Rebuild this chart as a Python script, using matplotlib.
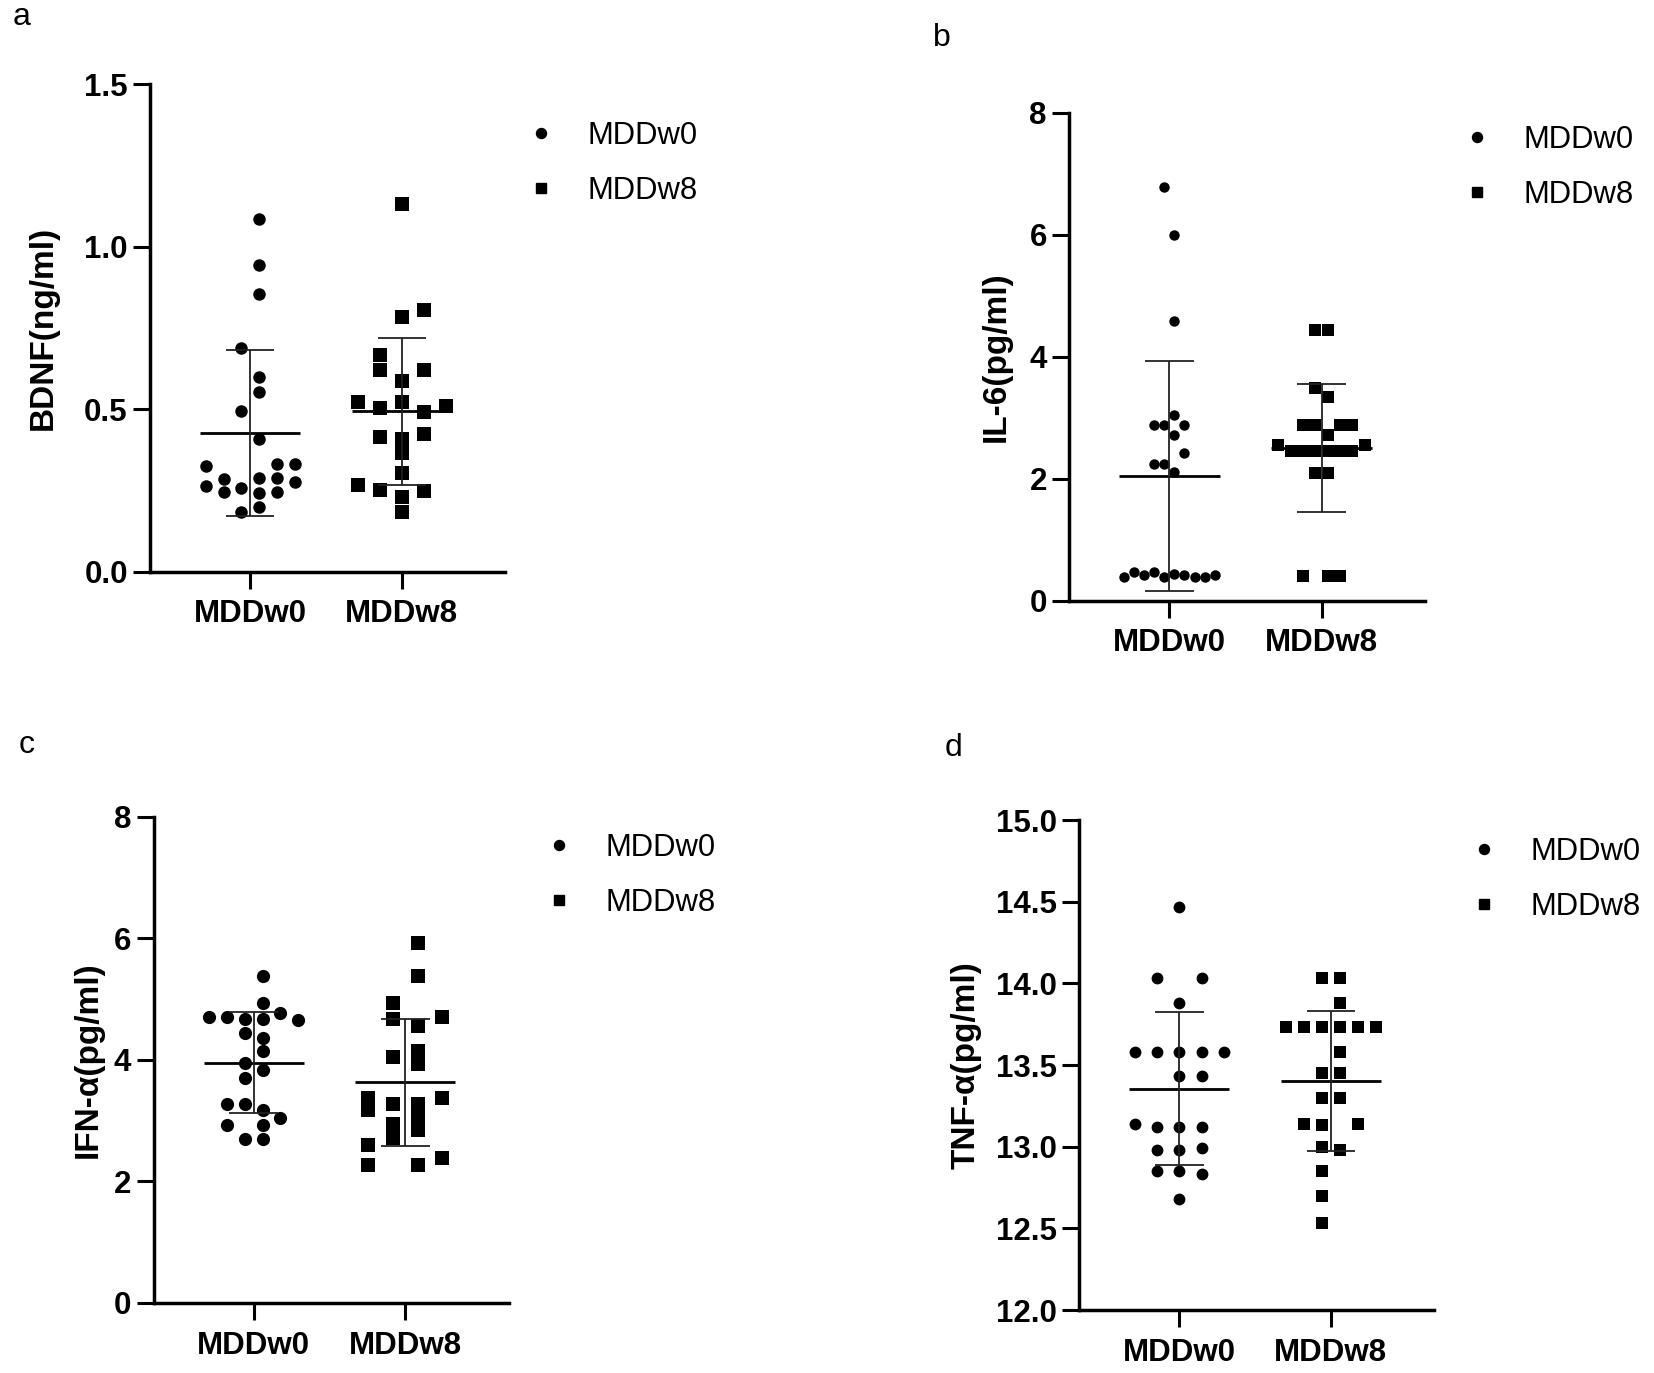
import numpy as np
import matplotlib
matplotlib.use("Agg")
import matplotlib.pyplot as plt
from matplotlib.lines import Line2D

plt.rcParams['font.family'] = ['Liberation Sans', 'DejaVu Sans']

W, H = 1654, 1373
grupos = ['MDDw0', 'MDDw8']

# --- a: BDNF (ng/ml) ---
bdnf_w0 = [1.087, 0.944, 0.856, 0.690, 0.598, 0.552, 0.495, 0.410, 0.326, 0.333, 0.333,
           0.285, 0.287, 0.289, 0.265, 0.275, 0.244, 0.258, 0.243, 0.246, 0.198, 0.183]
bdnf_w0_col = [0.5, 0.5, 0.5, -0.5, 0.5, 0.5, -0.5, 0.5, -2.5, 1.5, 2.5,
               -1.5, 0.5, 1.5, -2.5, 2.5, -1.5, -0.5, 0.5, 1.5, 0.5, -0.5]
bdnf_w8 = [1.133, 0.785, 0.805, 0.667, 0.621, 0.621, 0.588, 0.521, 0.521, 0.503, 0.510,
           0.492, 0.415, 0.423, 0.407, 0.364, 0.305, 0.267, 0.251, 0.248, 0.229, 0.183]
bdnf_w8_col = [0, 0, 1, -1, -1, 1, 0, -2, 0, -1, 2,
               1, -1, 1, 0, 0, 0, -2, -1, 1, 0, 0]

# --- b: IL-6 (pg/ml) ---
il6_w0 = [6.78, 6.00, 4.58, 3.04, 2.87, 2.87, 2.87, 2.71, 2.41, 2.24, 2.24, 2.11,
          0.38, 0.46, 0.41, 0.46, 0.39, 0.43, 0.41, 0.39, 0.38, 0.41]
il6_w0_col = [-0.5, 0.5, 0.5, 0.5, -1.5, -0.5, 1.5, 0.5, 1.5, -1.5, -0.5, 0.5,
              -4.5, -3.5, -2.5, -1.5, -0.5, 0.5, 1.5, 2.5, 3.5, 4.5]
il6_w8 = [4.43, 4.43, 3.49, 3.34, 2.87, 2.87, 2.87, 2.87, 2.71, 2.55, 2.55,
          2.45, 2.45, 2.45, 2.45, 2.45, 2.45, 2.09, 2.09, 0.40, 0.40, 0.40]
il6_w8_col = [-0.5, 0.5, -0.5, 0.5, -1.5, -0.5, 1.5, 2.5, 0.5, -3.5, 3.5,
              -2.5, -1.5, -0.5, 0.5, 1.5, 2.5, -0.5, 0.5, -1.5, 0.5, 1.5]

# --- c: IFN-α (pg/ml) ---
ifn_w0 = [5.38, 4.93, 4.71, 4.71, 4.67, 4.67, 4.77, 4.66, 4.44, 4.36, 4.14,
          3.95, 3.83, 3.70, 3.28, 3.28, 3.17, 3.05, 2.93, 2.93, 2.70, 2.70]
ifn_w0_col = [0.5, 0.5, -2.5, -1.5, -0.5, 0.5, 1.5, 2.5, -0.5, 0.5, 0.5,
              -0.5, 0.5, -0.5, -1.5, -0.5, 0.5, 1.5, -1.5, 0.5, -0.5, 0.5]
ifn_w8 = [5.93, 5.38, 4.93, 4.67, 4.71, 4.56, 4.15, 3.93, 4.04, 3.38, 3.17,
          3.27, 3.38, 3.27, 3.05, 2.84, 2.94, 2.72, 2.60, 2.38, 2.27, 2.27]
ifn_w8_col = [0.5, 0.5, -0.5, -0.5, 1.5, 0.5, 0.5, 0.5, -0.5, -1.5, -1.5,
              -0.5, 1.5, 0.5, 0.5, 0.5, -0.5, -0.5, -1.5, 1.5, -1.5, 0.5]

# --- d: TNF-α (pg/ml) ---
tnf_w0 = [14.47, 14.03, 14.03, 13.88, 13.58, 13.58, 13.58, 13.58, 13.58, 13.43, 13.43,
          13.14, 13.12, 13.12, 13.12, 12.98, 12.98, 12.99, 12.85, 12.85, 12.83, 12.68]
tnf_w0_col = [0, -1, 1, 0, -2, -1, 0, 1, 2, 0, 1,
              -2, -1, 0, 1, -1, 0, 1, -1, 0, 1, 0]
tnf_w8 = [14.03, 14.03, 13.88, 13.73, 13.73, 13.73, 13.73, 13.73, 13.73, 13.58, 13.45,
          13.45, 13.30, 13.30, 13.14, 13.13, 13.14, 13.00, 12.98, 12.85, 12.70, 12.53]
tnf_w8_col = [-0.5, 0.5, 0.5, -2.5, -1.5, -0.5, 0.5, 1.5, 2.5, 0.5, -0.5,
              0.5, -0.5, 0.5, -1.5, -0.5, 1.5, -0.5, 0.5, -0.5, -0.5, -0.5]

paneles = [
    # letra, ylabel, datos, columnas, ticks, rect(px), paso columna, tamaño marcador, legend(px)
    dict(letra='a', letra_xy=(22, 17), ylabel='BDNF(ng/ml)', ylabel_x=43,
         datos=[bdnf_w0, bdnf_w8], cols=[bdnf_w0_col, bdnf_w8_col],
         yticks=[0.0, 0.5, 1.0, 1.5], fmt='{:.1f}',
         rect=(150, 84.4, 505, 571.7), paso=[0.117, 0.145], ms=[9.0, 9.5],
         leg=(526, 163.5)),
    dict(letra='b', letra_xy=(942, 38), ylabel='IL-6(pg/ml)', ylabel_x=996,
         datos=[il6_w0, il6_w8], cols=[il6_w0_col, il6_w8_col],
         yticks=[0, 2, 4, 6, 8], fmt='{:.0f}',
         rect=(1069, 112.5, 1425, 600.5), paso=[0.066, 0.081], ms=[7.5, 8.6],
         leg=(1462, 167.5)),
    dict(letra='c', letra_xy=(27, 745), ylabel='IFN-α(pg/ml)', ylabel_x=88,
         datos=[ifn_w0, ifn_w8], cols=[ifn_w0_col, ifn_w8_col],
         yticks=[0, 2, 4, 6, 8], fmt='{:.0f}',
         rect=(153.5, 816.7, 508.5, 1303), paso=[0.117, 0.163], ms=[9.5, 9.5],
         leg=(544, 875.5)),
    dict(letra='d', letra_xy=(953, 748), ylabel='TNF-α(pg/ml)', ylabel_x=966,
         datos=[tnf_w0, tnf_w8], cols=[tnf_w0_col, tnf_w8_col],
         yticks=[12.0, 12.5, 13.0, 13.5, 14.0, 14.5, 15.0], fmt='{:.1f}',
         rect=(1079.3, 820, 1434, 1310), paso=[0.147, 0.119], ms=[8.5, 9.0],
         leg=(1469, 879.5)),
]

FS_TICK = 22.5
FS_LABEL = 24
FS_LEG = 22.3
marcadores = ['o', 's']

fig = plt.figure(figsize=(W / 100, H / 100), dpi=100)
fig.patch.set_facecolor('white')

for p in paneles:
    x0, y0, x1, y1 = p['rect']
    ax = fig.add_axes([x0 / W, 1 - y1 / H, (x1 - x0) / W, (y1 - y0) / H])

    for i, (vals, cols) in enumerate(zip(p['datos'], p['cols'])):
        vals = np.array(vals)
        xs = i + np.array(cols) * p['paso'][i]
        ax.plot(xs, vals, linestyle='none', marker=marcadores[i], ms=p['ms'][i],
                color='black', mec='black', mew=0, zorder=2, clip_on=False)
        media = vals.mean()
        sd = vals.std(ddof=1)
        ax.hlines(media, i - 0.33, i + 0.33, color='black', lw=2.0, zorder=3)
        ax.vlines(i, media - sd, media + sd, color='#222222', lw=1.3, zorder=3)
        ax.hlines([media - sd, media + sd], i - 0.16, i + 0.16, color='#222222', lw=1.3, zorder=3)

    ax.set_xlim(-0.66, 1.68)
    ax.set_ylim(p['yticks'][0], p['yticks'][-1])
    ax.set_xticks([0, 1])
    ax.set_xticklabels(grupos, fontsize=FS_TICK, fontweight='bold')
    ax.set_yticks(p['yticks'])
    ax.set_yticklabels([p['fmt'].format(t) for t in p['yticks']], fontsize=FS_TICK, fontweight='bold')
    for s in ['top', 'right']:
        ax.spines[s].set_visible(False)
    for s in ['left', 'bottom']:
        ax.spines[s].set_linewidth(2.5)
    ax.tick_params(axis='both', length=12, width=2.2, color='black')
    ax.tick_params(axis='y', pad=4)
    ax.tick_params(axis='x', pad=8)

    # ylabel y letra del panel
    yc = (y0 + y1) / 2
    fig.text(p['ylabel_x'] / W, 1 - yc / H, p['ylabel'], rotation=90, ha='center', va='center',
             fontsize=FS_LABEL, fontweight='bold')
    lx, ly = p['letra_xy']
    fig.text(lx / W, 1 - ly / H, p['letra'], ha='center', va='center', fontsize=23)

    # leyenda
    handles = [Line2D([], [], linestyle='none', marker='o', ms=7.2, color='black'),
               Line2D([], [], linestyle='none', marker='s', ms=7.0, color='black')]
    lgx, lgy = p['leg']
    fig.legend(handles, grupos, loc='center left', bbox_to_anchor=(lgx / W, 1 - lgy / H),
               bbox_transform=fig.transFigure, frameon=False, fontsize=FS_LEG,
               handlelength=1.0, handletextpad=1.0, labelspacing=0.82,
               borderpad=0, borderaxespad=0)

fig.savefig('out.png', dpi=100, facecolor='white')
plt.close(fig)
